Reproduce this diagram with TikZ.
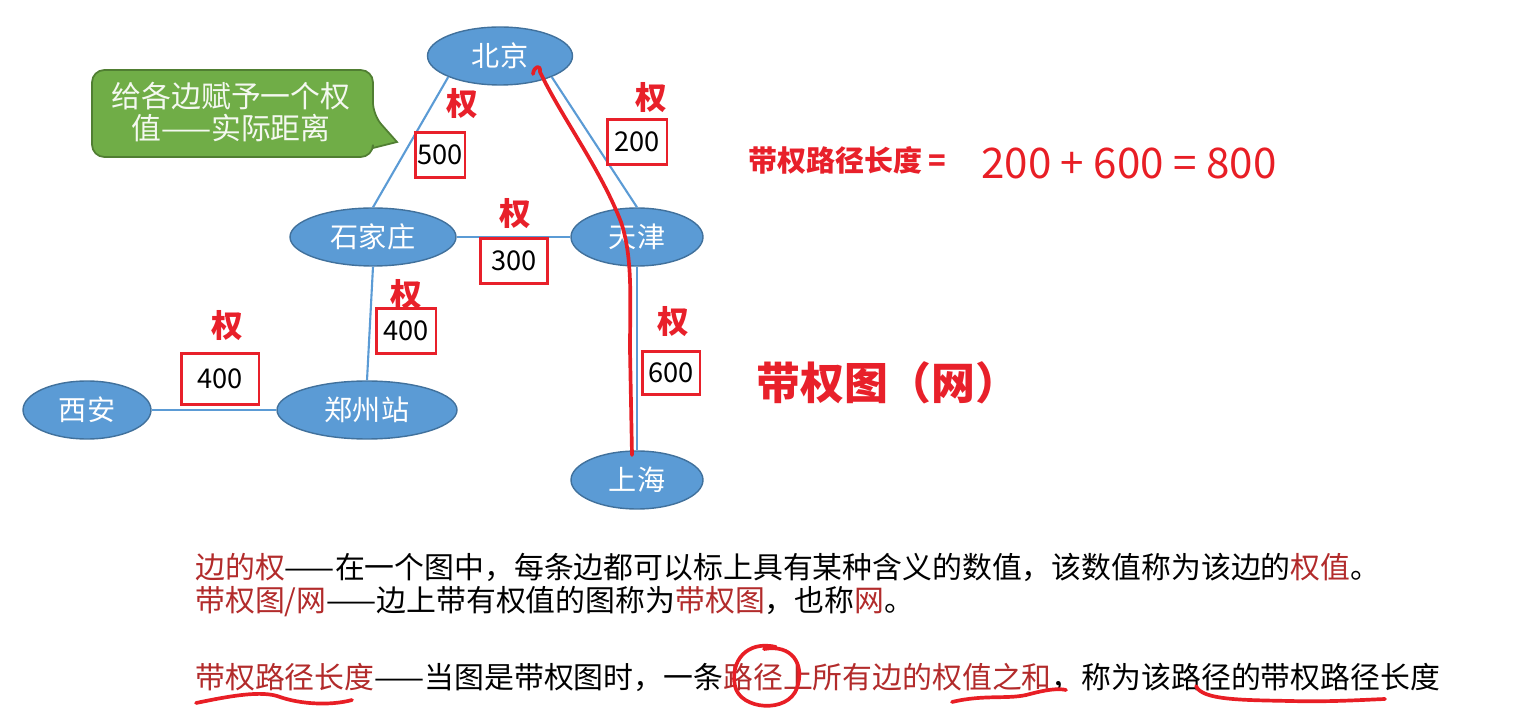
\documentclass[tikz,border=0pt]{standalone}
\usepackage{fontspec}
\setmainfont{Noto Sans CJK SC}
\usetikzlibrary{shapes.geometric,positioning}
\definecolor{cityblue}{HTML}{5B9BD5}
\definecolor{cityrim}{HTML}{41719C}
\definecolor{boxred}{HTML}{E8202A}
\definecolor{termred}{HTML}{B22B2B}
\definecolor{notegreen}{HTML}{70AD47}
\definecolor{noterim}{HTML}{507E32}
\definecolor{penred}{HTML}{E81E25}

\begin{document}
\begin{tikzpicture}[x=0.02cm, y=-0.02cm,
	city/.style={ellipse, draw=cityrim, line width=0.8pt, fill=cityblue, text=white, font=\fontsize{16}{18}\selectfont, inner sep=0pt, minimum height=1.16cm},
	road/.style={draw=cityblue, line width=1.2pt},
	wbox/.style={draw=boxred, line width=1.7pt, fill=white, font=\fontsize{15.5}{17}\selectfont, inner sep=0pt, minimum width=1.2cm, minimum height=0.9cm},
	wlabel/.style={text=boxred, font=\bfseries\fontsize{18}{20}\selectfont, inner sep=0pt},
	pen/.style={draw=penred, line width=2.1pt, line cap=round, line join=round},
	body/.style={anchor=base west, inner sep=0pt, font=\fontsize{17}{20}\selectfont}]
	\useasboundingbox (0,0) rectangle (1515,712);
	% cities
	\node[city, minimum width=2.9cm] (bj) at (500,56) {北京};
	\node[city, minimum width=3.32cm] (sjz) at (373,237) {石家庄};
	\node[city, minimum width=2.64cm] (tj) at (637,237) {天津};
	\node[city, minimum width=2.56cm] (xa) at (87,410) {西安};
	\node[city, minimum width=3.6cm] (zz) at (367,410) {郑州站};
	\node[city, minimum width=2.64cm] (sh) at (637,480) {上海};
	% roads
	\draw[road] (bj.south west) -- (sjz.north);
	\draw[road] (bj.south east) -- (tj.north);
	\draw[road] (sjz.east) -- (tj.west);
	\draw[road] (sjz.south) -- (zz.north);
	\draw[road] (xa.east) -- (zz.west);
	\draw[road] (tj.south) -- (sh.north);
	% weights
	\node[wbox, minimum width=1.0cm] (w500) at (440,155) {500};
	\node[wbox] (w200) at (637,142) {200};
	\node[wbox, minimum width=1.34cm] (w300) at (514,261) {300};
	\node[wbox] (w400a) at (406,331) {400};
	\node[wbox, minimum width=1.56cm, minimum height=1.02cm] (w400b) at (220,379) {400};
	\node[wbox, minimum width=1.16cm, minimum height=0.86cm] (w600) at (671,373) {600};
	\foreach \n/\x/\y in {a/462/104, b/651/98, c/515/214, d/406/295, e/227/326, f/673/322}
		\node[wlabel] (q\n) at (\x,\y) {权};
	% callout
	\filldraw[fill=notegreen, draw=noterim, line width=1pt] (373,115) -- (397,142) -- (373,148) [rounded corners=7pt] -- (373,157) -- (92,157) -- (92,70) -- (373,70) -- cycle;
	\node[align=center, text=white!92!notegreen, font=\fontsize{17}{18}\selectfont] (note) at (231,112) {给各边赋予一个权\\值——实际距离};
	% pen stroke along the path
	\draw[pen] (533,74) .. controls (534,66) and (541,64) .. (540,72) .. controls (562,118) and (600,168) .. (621,222) .. controls (633,258) and (630,300) .. (630,350) -- (632,455);
	% right side
	\node[anchor=west, text=boxred, font=\bfseries\fontsize{16.5}{20}\selectfont] (plen) at (742,160) {带权路径长度 =};
	\node[anchor=west, text=penred, font=\fontsize{24}{26}\selectfont] (sum) at (975,163) {200 + 600 = 800};
	\node[anchor=west, text=boxred, font=\bfseries\fontsize{25}{28}\selectfont] (net) at (750,383) {带权图（网）};
	% definitions
	\node[body] (d1) at (195,579) {\textcolor{termred}{边的权}——在一个图中，每条边都可以标上具有某种含义的数值，该数值称为该边的\textcolor{termred}{权值}。};
	\node[body] (d2) at (195,612) {\textcolor{termred}{带权图/网}——边上带有权值的图称为\textcolor{termred}{带权图}，也称\textcolor{termred}{网}。};
	\node[body] (d3) at (195,688) {\textcolor{termred}{带权路径长度}——当图是带权图时，一条\textcolor{termred}{路径上所有边的权值之和}，称为该路径的带权路径长度};
	% pen marks under the definition
	\draw[pen] (196,703) .. controls (230,696) and (262,690) .. (280,697) .. controls (300,704) and (330,706) .. (352,700);
	\draw[pen] (776,647) .. controls (746,640) and (730,662) .. (735,686) .. controls (740,710) and (788,714) .. (797,688) .. controls (805,664) and (792,644) .. (764,649);
	\draw[pen] (952,702) .. controls (985,694) and (1010,700) .. (1030,694) .. controls (1045,690) and (1058,688) .. (1066,690);
	\draw[pen] (1196,686) .. controls (1202,700) and (1240,700) .. (1290,701) .. controls (1330,702) and (1360,700) .. (1385,699);
\end{tikzpicture}
\end{document}
